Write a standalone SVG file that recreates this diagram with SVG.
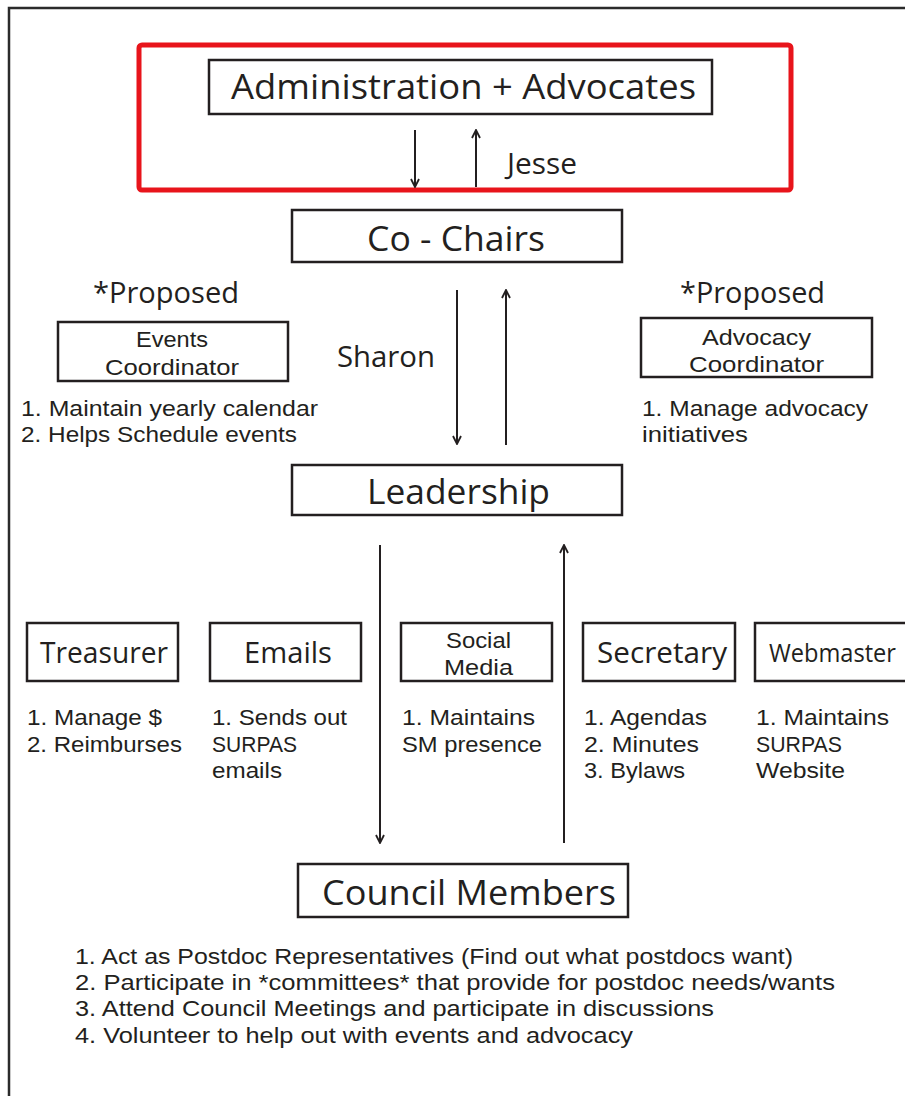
<svg xmlns="http://www.w3.org/2000/svg" width="905" height="1096" viewBox="0 0 905 1096">
<style>
text{font-family:"Open Sans","Noto Sans","Liberation Sans",sans-serif;fill:#231f20}
.box{fill:#fff;stroke:#231f20;stroke-width:2.5}
.big{font-size:34px}
.mid{font-size:29px}
.sm{font-size:25px}
.li{font-family:"Liberation Sans",Arial,sans-serif;font-size:22.5px}
.c{text-anchor:middle}
.ln{stroke:#231f20;stroke-width:2;fill:none}
</style>
<defs>
<marker id="ah" viewBox="0 0 10 10" refX="9" refY="5" markerWidth="10" markerHeight="10" markerUnits="userSpaceOnUse" orient="auto">
<path d="M1,1 L9,5 L1,9" fill="none" stroke="#231f20" stroke-width="1.8"/>
</marker>
</defs>
<rect width="905" height="1096" fill="#fff"/>
<g id="frame">
<path d="M9,1096 V8 H905" fill="none" stroke="#2b2b2b" stroke-width="2.5"/>
<rect x="139" y="45" width="652" height="145" rx="3" fill="none" stroke="#e8141b" stroke-width="5"/>
</g>
<g id="connectors">
<line class="ln" x1="415" y1="130" x2="415" y2="187" marker-end="url(#ah)"/>
<line class="ln" x1="476" y1="187" x2="476" y2="130" marker-end="url(#ah)"/>
<line class="ln" x1="457" y1="290" x2="457" y2="444" marker-end="url(#ah)"/>
<line class="ln" x1="506" y1="445" x2="506" y2="290" marker-end="url(#ah)"/>
<line class="ln" x1="380" y1="545" x2="380" y2="843" marker-end="url(#ah)"/>
<line class="ln" x1="564" y1="843" x2="564" y2="545" marker-end="url(#ah)"/>
<text class="mid" x="507" y="174" textLength="70" lengthAdjust="spacingAndGlyphs">Jesse</text>
<text class="mid" x="337" y="367" textLength="98" lengthAdjust="spacingAndGlyphs">Sharon</text>
</g>
<g id="admin">
<rect class="box" x="209" y="60" width="503" height="54"/>
<text class="big" x="231" y="99" textLength="465" lengthAdjust="spacingAndGlyphs">Administration + Advocates</text>
</g>
<g id="cochairs">
<rect class="box" x="292" y="210" width="330" height="52"/>
<text class="big" x="367" y="251" textLength="178" lengthAdjust="spacingAndGlyphs">Co - Chairs</text>
</g>
<g id="events">
<text class="mid" x="93" y="303" textLength="146" lengthAdjust="spacingAndGlyphs">*Proposed</text>
<rect class="box" x="58" y="322" width="230" height="59"/>
<text class="li" x="136" y="347" textLength="72" lengthAdjust="spacingAndGlyphs">Events</text>
<text class="li" x="105" y="375" textLength="134" lengthAdjust="spacingAndGlyphs">Coordinator</text>
<text class="li" x="21" y="416" textLength="297" lengthAdjust="spacingAndGlyphs">1. Maintain yearly calendar</text>
<text class="li" x="21" y="442" textLength="276" lengthAdjust="spacingAndGlyphs">2. Helps Schedule events</text>
</g>
<g id="advocacy">
<text class="mid" x="680" y="303" textLength="145" lengthAdjust="spacingAndGlyphs">*Proposed</text>
<rect class="box" x="641" y="318" width="231" height="59"/>
<text class="li" x="702" y="345" textLength="109" lengthAdjust="spacingAndGlyphs">Advocacy</text>
<text class="li" x="689" y="372" textLength="135" lengthAdjust="spacingAndGlyphs">Coordinator</text>
<text class="li" x="642" y="416" textLength="226" lengthAdjust="spacingAndGlyphs">1. Manage advocacy</text>
<text class="li" x="642" y="442" textLength="106" lengthAdjust="spacingAndGlyphs">initiatives</text>
</g>
<g id="leadership">
<rect class="box" x="292" y="465" width="330" height="50"/>
<text class="big" x="367" y="504" textLength="183" lengthAdjust="spacingAndGlyphs">Leadership</text>
</g>
<g id="treasurer">
<rect class="box" x="27" y="623" width="151" height="58"/>
<text class="mid" x="40" y="663" textLength="128" lengthAdjust="spacingAndGlyphs">Treasurer</text>
<text class="li" x="27" y="725" textLength="135" lengthAdjust="spacingAndGlyphs">1. Manage $</text>
<text class="li" x="27" y="752" textLength="155" lengthAdjust="spacingAndGlyphs">2. Reimburses</text>
</g>
<g id="emails">
<rect class="box" x="210" y="623" width="151" height="58"/>
<text class="mid" x="244" y="663" textLength="88" lengthAdjust="spacingAndGlyphs">Emails</text>
<text class="li" x="212" y="725" textLength="135" lengthAdjust="spacingAndGlyphs">1. Sends out</text>
<text class="li" x="212" y="752" textLength="85" lengthAdjust="spacingAndGlyphs">SURPAS</text>
<text class="li" x="212" y="778" textLength="70" lengthAdjust="spacingAndGlyphs">emails</text>
</g>
<g id="socialmedia">
<rect class="box" x="401" y="623" width="151" height="58"/>
<text class="li" x="446" y="648" textLength="65" lengthAdjust="spacingAndGlyphs">Social</text>
<text class="li" x="444" y="675" textLength="69" lengthAdjust="spacingAndGlyphs">Media</text>
<text class="li" x="402" y="725" textLength="133" lengthAdjust="spacingAndGlyphs">1. Maintains</text>
<text class="li" x="402" y="752" textLength="140" lengthAdjust="spacingAndGlyphs">SM presence</text>
</g>
<g id="secretary">
<rect class="box" x="583" y="623" width="152" height="58"/>
<text class="mid" x="597" y="663" textLength="130" lengthAdjust="spacingAndGlyphs">Secretary</text>
<text class="li" x="584" y="725" textLength="123" lengthAdjust="spacingAndGlyphs">1. Agendas</text>
<text class="li" x="584" y="752" textLength="115" lengthAdjust="spacingAndGlyphs">2. Minutes</text>
<text class="li" x="584" y="778" textLength="101" lengthAdjust="spacingAndGlyphs">3. Bylaws</text>
</g>
<g id="webmaster">
<rect class="box" x="755" y="623" width="160" height="58"/>
<text class="sm" x="769" y="662" textLength="127" lengthAdjust="spacingAndGlyphs">Webmaster</text>
<text class="li" x="756" y="725" textLength="133" lengthAdjust="spacingAndGlyphs">1. Maintains</text>
<text class="li" x="756" y="752" textLength="86" lengthAdjust="spacingAndGlyphs">SURPAS</text>
<text class="li" x="756" y="778" textLength="89" lengthAdjust="spacingAndGlyphs">Website</text>
</g>
<g id="council">
<rect class="box" x="298" y="864" width="330" height="53"/>
<text class="big" x="322" y="905" textLength="294" lengthAdjust="spacingAndGlyphs">Council Members</text>
<text class="li" x="75" y="964" textLength="718" lengthAdjust="spacingAndGlyphs">1. Act as Postdoc Representatives (Find out what postdocs want)</text>
<text class="li" x="75" y="990" textLength="760" lengthAdjust="spacingAndGlyphs">2. Participate in *committees* that provide for postdoc needs/wants</text>
<text class="li" x="75" y="1016" textLength="639" lengthAdjust="spacingAndGlyphs">3. Attend Council Meetings and participate in discussions</text>
<text class="li" x="75" y="1043" textLength="558" lengthAdjust="spacingAndGlyphs">4. Volunteer to help out with events and advocacy</text>
</g>
</svg>
